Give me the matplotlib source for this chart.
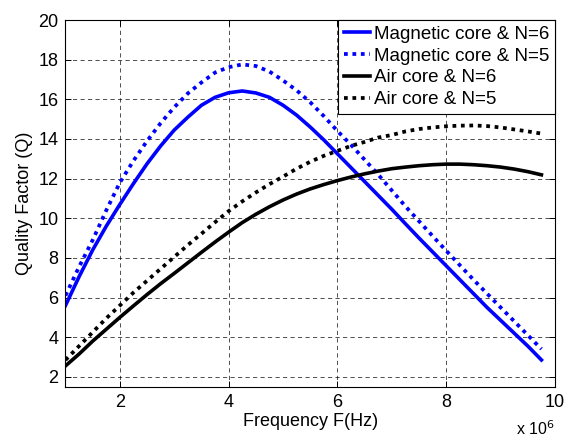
"""Quality factor vs frequency for magnetic / air core coils."""

import matplotlib

matplotlib.use("Agg")
import matplotlib.pyplot as plt  # noqa: E402

# frequency in units of 1e6 Hz
freq = [1.0, 1.25, 1.5, 1.75, 2.0, 2.25, 2.5, 2.75, 3.0, 3.25, 3.5, 3.75,
        4.0, 4.25, 4.5, 4.75, 5.0, 5.25, 5.5, 5.75, 6.0, 6.25, 6.5, 6.75,
        7.0, 7.25, 7.5, 7.75, 8.0, 8.25, 8.5, 8.75, 9.0, 9.25, 9.5, 9.75]

q_mag_n6 = [5.6, 7.05, 8.4, 9.6, 10.7, 11.75, 12.75, 13.65, 14.45, 15.1,
            15.7, 16.1, 16.33, 16.42, 16.32, 16.1, 15.7, 15.2, 14.6, 13.95,
            13.25, 12.55, 11.85, 11.15, 10.45, 9.72, 9.0, 8.3, 7.6, 6.9,
            6.2, 5.5, 4.85, 4.2, 3.55, 2.85]
q_mag_n5 = [6.1, 7.55, 8.9, 10.4, 11.8, 12.9, 13.9, 14.8, 15.6, 16.3,
            16.85, 17.35, 17.62, 17.76, 17.68, 17.4, 16.95, 16.45, 15.85, 15.15,
            14.4, 13.7, 12.95, 12.2, 11.4, 10.6, 9.85, 9.1, 8.36, 7.63,
            6.9, 6.2, 5.5, 4.8, 4.1, 3.4]
q_air_n6 = [2.55, 3.15, 3.8, 4.4, 5.0, 5.58, 6.15, 6.7, 7.22, 7.75,
            8.28, 8.8, 9.3, 9.78, 10.2, 10.58, 10.92, 11.22, 11.48, 11.7,
            11.9, 12.08, 12.24, 12.38, 12.5, 12.58, 12.65, 12.7, 12.73, 12.73,
            12.7, 12.65, 12.58, 12.48, 12.35, 12.19]
q_air_n5 = [2.85, 3.55, 4.25, 4.95, 5.6, 6.25, 6.85, 7.45, 8.05, 8.65,
            9.22, 9.8, 10.36, 10.85, 11.3, 11.72, 12.1, 12.5, 12.85, 13.15,
            13.4, 13.65, 13.85, 14.07, 14.2, 14.38, 14.5, 14.58, 14.64, 14.67,
            14.68, 14.65, 14.58, 14.48, 14.38, 14.27]

labels = ["Magnetic core & N=6", "Magnetic core & N=5",
          "Air core & N=6", "Air core & N=5"]
x_ticks = [2, 4, 6, 8, 10]
y_ticks = [2, 4, 6, 8, 10, 12, 14, 16, 18, 20]

plt.rcParams["font.family"] = ["Liberation Sans", "DejaVu Sans"]
plt.rcParams["font.size"] = 13

fig = plt.figure(figsize=(5.66, 4.41), dpi=100)
ax = fig.add_axes([0.1157, 0.1231, 0.8649, 0.8315])

dot = (0, (1, 1.25))
ax.plot(freq, q_mag_n6, color="blue", lw=2.6, label=labels[0])
ax.plot(freq, q_mag_n5, color="blue", lw=2.7, ls=dot, label=labels[1])
ax.plot(freq, q_air_n6, color="black", lw=2.6, label=labels[2])
ax.plot(freq, q_air_n5, color="black", lw=2.7, ls=dot, label=labels[3])

ax.set_xlim(1, 10)
ax.set_ylim(1.5, 20)
ax.set_xticks(x_ticks)
ax.set_yticks(y_ticks)
ax.grid(True, color="black", ls=(0, (5, 4)), lw=0.6, alpha=0.8)
ax.tick_params(direction="in", top=True, right=True, length=4, width=0.7,
               labelsize=13, pad=5)
for sp in ax.spines.values():
    sp.set_linewidth(0.8)

ax.set_xlabel("Frequency F(Hz)", fontsize=13, labelpad=2)
ax.set_ylabel("Quality Factor (Q)", fontsize=13, labelpad=4)
ax.text(1.0, -0.14, "x 10$^6$", transform=ax.transAxes, ha="right",
        va="bottom", fontsize=11.5)

leg = ax.legend(loc="upper right", borderaxespad=0, fancybox=False,
                edgecolor="black", framealpha=1, fontsize=13.5,
                handlelength=1.4, handletextpad=0.2, labelspacing=0.25,
                borderpad=0.3)
leg.get_frame().set_linewidth(0.8)

fig.savefig("out.png", dpi=100)
